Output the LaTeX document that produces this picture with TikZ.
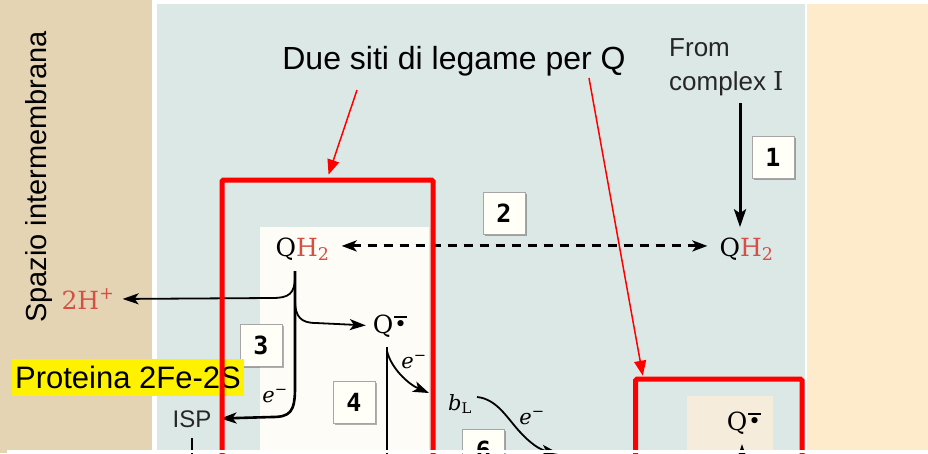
\documentclass[tikz,border=0pt]{standalone}
\usepackage{fontspec}
\newfontfamily\arial{Liberation Sans}
\newfontfamily\numfont{DejaVu Sans Mono}
\newfontfamily\chemfont{DejaVu Serif}
\usetikzlibrary{arrows.meta,shadows,calc}
\definecolor{tanbg}{RGB}{229,212,180}
\definecolor{bluebg}{RGB}{220,232,230}
\definecolor{beigebg}{RGB}{253,235,203}
\definecolor{creambg}{RGB}{253,252,246}
\definecolor{creamtwo}{RGB}{245,236,220}
\definecolor{chemred}{RGB}{214,78,68}
\definecolor{redline}{RGB}{255,0,0}
\newcommand\radsym{\begingroup\setbox0\hbox{\scalebox{0.85}{•}}%
  \raisebox{0.06em}{\rlap{\raisebox{0.56em}{\rule{\wd0}{0.08em}}}\box0}\endgroup}
\newcommand\qsemi{Q\kern0.04em\radsym}
\newcommand\elec{{\itshape e}\textsuperscript{−}}
\tikzset{
  chem/.style={font=\chemfont\fontsize{25}{30}\selectfont, inner sep=0pt},
  elab/.style={font=\chemfont\fontsize{21}{26}\selectfont, inner sep=0pt},
  sanslab/.style={font=\arial\fontsize{24}{28}\selectfont, inner sep=0pt, text=black!85},
  numbox/.style={draw=black!35, fill=white!97!yellow, line width=0.8pt,
    minimum width=42pt, minimum height=42pt, inner sep=0pt,
    font=\numfont\bfseries\fontsize{25}{25}\selectfont,
    drop shadow={shadow xshift=1.5pt, shadow yshift=-1.5pt, opacity=0.3, fill=black}},
  bigarr/.style={line width=3pt, -{Stealth[length=18pt,width=12pt,inset=4pt]}},
  dasharr/.style={line width=3pt, dash pattern=on 9pt off 7pt,
    {Stealth[length=15pt,width=11pt,inset=4pt]}-{Stealth[length=15pt,width=11pt,inset=4pt]}},
  stemline/.style={line width=2.6pt},
  stemarr/.style={line width=2.6pt, -{Stealth[length=16pt,width=11pt,inset=4pt]}},
  thinarr/.style={line width=1.8pt, -{Stealth[length=16pt,width=11pt,inset=4pt]}},
  redbox/.style={draw=redline, line width=5pt, rounded corners=1.5pt, inner sep=0pt},
  redarr/.style={draw=redline, line width=1.5pt, -{Triangle[length=15pt,width=12pt]}, fill=redline},
}
\begin{document}
\begin{tikzpicture}[x=1pt,y=-1pt]
\useasboundingbox (0,0) rectangle (928,453);
\clip (0,0) rectangle (928,453);
% backgrounds
\fill[white] (0,0) rectangle (928,453);
\fill[tanbg] (0,0) rectangle (152,453);
\fill[bluebg] (156.5,4) rectangle (804.5,450);
\fill[beigebg] (807,4) rectangle (928,450);
\fill[creambg] (260,227) rectangle (429,450);
\fill[creamtwo] (687,396) rectangle (773,450);

% side and title texts
\node[rotate=90, anchor=base, inner sep=0pt, font=\arial\fontsize{29}{31}\selectfont] (spazio) at (46.5,177) {Spazio intermembrana};
\node[anchor=base, inner sep=0pt, font=\arial\fontsize{32}{34}\selectfont] (ttl) at (454,69) {Due siti di legame per Q};
\node[anchor=north west, align=left, inner sep=0pt, font=\arial\fontsize{26}{34}\selectfont, text=black!85] (from) at (669,38) {From\\complex {\chemfont I}};

% chemical labels
\node[chem, anchor=base] (qhA) at (302.5,256) {Q\textcolor{chemred}{H\textsubscript{2}}};
\node[chem, anchor=base] (qhB) at (746.5,256) {Q\textcolor{chemred}{H\textsubscript{2}}};
\node[chem, anchor=base, text=chemred] (hp) at (88,309) {2H\textsuperscript{+}};
\node[chem, anchor=base] (qs1) at (390,333) {\qsemi};
\node[chem, anchor=base] (qs2) at (744,430) {\qsemi};
\node[elab, anchor=base] (bl) at (460,410) {{\itshape b}\textsubscript{L}};
\node[sanslab, anchor=base] (isp) at (192,427) {ISP};
\node[elab] (e1) at (275,396) {\elec};
\node[elab] (e2) at (414,362) {\elec};
\node[elab] (e3) at (532,418) {\elec};

% number boxes
\node[numbox] (n1) at (773,157.5) {1};
\node[numbox] (n2) at (504,213.5) {2};
\node[numbox] (n3) at (261,345.5) {3};
\node[numbox] (n4) at (354,402.5) {4};
\node[numbox] (n6) at (483.5,450.5) {6};

% coordinates
\coordinate (c1s) at (740,103);
\coordinate (s1) at (295,271);
\coordinate (s2) at (387,347);
\coordinate (blin) at (429,393);
\coordinate (blout) at (477,397);
\coordinate (q2s) at (742,475);

% black connectors
\draw[bigarr, shorten >=10pt] (c1s) -- (c1s |- qhB.north);
\draw[dasharr, shorten <=12pt, shorten >=12pt] ([yshift=3pt]qhA.east) -- ([yshift=3pt]qhB.west);
\draw[thinarr, shorten >=8pt] (295,276) .. controls (295,294) and (289,298) .. (272,298) -- (hp.east);
\draw[thinarr, shorten >=7pt] (295,300) .. controls (295,317) and (301,323) .. (316,323) -- (qs1.west);
\draw[stemarr, shorten >=9pt] (s1) -- (295,388) .. controls (295,412) and (290,417) .. (272,417) -- (isp.east);
\draw[stemline] (s2) -- (387,470);
\draw[thinarr] (387,351) .. controls (391,368) and (408,384) .. (blin);
\draw[thinarr] (blout) .. controls (497,399) and (507,418) .. (520,432) .. controls (530,443) and (540,450) .. (558,453);
\draw[stemline, shorten <=11pt] (isp.south) -- ++(0,40);
\draw[thinarr, shorten >=10pt] (q2s) -- (q2s |- qs2.south);

% highlighted label (under the red frame)
\node[fill=yellow, inner sep=0pt, minimum width=232pt, minimum height=37pt, font=\arial\fontsize{31}{34}\selectfont] (prot) at (128,377.5) {Proteina 2Fe-2S};

% red annotation boxes and arrows
\node[redbox, anchor=north west, minimum width=211.2pt, minimum height=300pt] (rb1) at (219.5,177.5) {};
\node[redbox, anchor=north west, minimum width=166.5pt, minimum height=200pt] (rb2) at (633,376.7) {};
\coordinate (ra1) at (357,90);
\coordinate (ra2) at (589,78);
\draw[redarr, shorten >=3pt] (ra1) -- (rb1.north);
\draw[redarr, shorten >=1pt] (ra2) -- ([xshift=10pt]rb2.north west);

% bottom white strip
\fill[white] (7,450) rectangle (928,453);
\end{tikzpicture}
\end{document}
